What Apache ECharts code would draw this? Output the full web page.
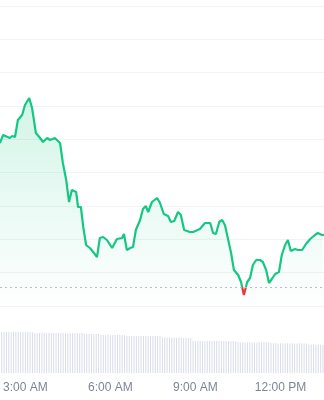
<!DOCTYPE html>
<html><head><meta charset="utf-8">
<script src="https://cdn.jsdelivr.net/npm/echarts@6/dist/echarts.min.js"></script>
<style>html,body{margin:0;padding:0;background:#fff}#c{width:324px;height:400px}</style>
</head><body><div id="c"></div>
<script>
// ---- data ----
const priceTimes = ['02:08','02:15','02:19','02:29','02:34','02:40','02:46','02:55','03:01','03:10',
'03:16','03:24','03:33','03:39','03:48','03:54','03:58','04:04','04:15','04:21',
'04:28','04:34','04:40','04:49','04:53','04:59','05:04','05:10','05:18','05:25',
'05:33','05:39','05:46','05:54','06:05','06:15','06:26','06:30','06:36','06:43',
'06:49','06:55','07:04','07:10','07:16','07:21','07:29','07:40','07:46','07:54',
'08:03','08:09','08:16','08:24','08:30','08:37','08:49','08:56','09:10','09:21',
'09:32','09:38','09:44','09:51','09:57','10:03','10:10','10:16','10:22','10:31',
'10:37','10:43','10:50','10:56','11:02','11:09','11:17','11:23','11:30','11:36',
'11:42','11:49','11:57','12:03','12:10','12:16','12:22','12:31','12:37','12:46',
'12:54','13:03','13:13','13:19','13:28','13:32'];
const prices = [104.89,105.13,105.19,105.04,105.10,105.07,105.58,105.73,106.03,106.24,
105.94,105.19,105.04,104.92,105.04,104.98,104.92,105.04,104.89,104.29,
103.78,103.12,103.48,103.42,102.97,102.97,102.37,101.83,101.74,101.62,
101.47,102.04,102.07,101.98,101.74,102.01,102.04,102.16,101.68,101.74,
101.77,102.28,102.58,102.91,103.00,102.82,103.12,103.24,103.09,102.76,
102.70,102.52,102.55,102.82,102.73,102.28,102.22,102.22,102.31,102.49,
102.49,102.19,102.16,102.52,102.58,102.43,101.98,101.59,101.08,100.93,
100.72,100.33,100.72,100.84,101.23,101.38,101.38,101.32,101.08,100.69,
100.81,100.96,101.02,101.53,101.83,101.98,101.65,101.71,101.68,101.68,
101.86,102.01,102.13,102.19,102.13,102.13];
const openPrice = 100.57;
const volumeStart = '02:10';
const volumeStepMinutes = 5;
const volumes = [41.0,40.8,41.1,40.9,41.0,41.2,40.9,41.0,40.8,41.1,41.0,40.9,41.0,40.8,
40.1,40.0,39.9,40.2,40.0,39.8,40.1,40.0,39.9,40.0,40.2,39.9,40.0,40.1,39.8,40.0,39.9,40.1,40.0,39.8,39.9,
39.1,38.9,39.0,39.2,38.8,39.0,38.9,
38.1,37.9,38.0,38.2,37.8,38.0,37.9,38.1,38.0,37.8,37.9,
37.1,36.9,37.0,37.2,36.8,37.0,36.9,37.1,37.0,36.8,36.9,37.0,37.1,36.9,36.8,
35.4,35.2,35.3,35.5,35.1,35.3,35.2,35.4,35.3,35.1,35.2,35.3,35.0,
32.2,32.0,31.9,32.1,32.0,31.8,32.1,31.9,32.0,32.2,31.9,32.0,31.8,32.1,31.9,32.0,31.8,31.9,31.7,
30.9,30.7,30.8,30.6,30.8,30.7,30.5,30.8,30.6,30.7,30.5,30.6,30.7,30.4,
29.9,29.7,29.8,29.6,29.8,29.7,29.5,29.8,29.6,29.7,29.5,29.6,29.7,29.4,29.5,29.6,
28.6,28.4,28.5,28.3,28.4,28.2,28.1];
const tickLabels = ['3:00 AM','6:00 AM','9:00 AM','12:00 PM'];
const viewStart = '02:08:18';
const viewEnd = '13:32:06';

// ---- helpers ----
function hm(s){const p=s.split(':').map(Number);return p[0]*60+p[1]+(p[2]||0)/60;}
function labelToMin(l){const [t,ap]=l.split(' ');let [h,m]=t.split(':').map(Number);if(ap==='PM'&&h!==12)h+=12;if(ap==='AM'&&h===12)h=0;return h*60+m;}
function minToLabel(v){let h=Math.floor(v/60),m=Math.round(v-h*60);const ap=h>=12?'PM':'AM';let hh=h%12;if(hh===0)hh=12;return hh+':'+String(m).padStart(2,'0')+' '+ap;}

const lineData = priceTimes.map((t,i)=>[hm(t),prices[i]]);
const volData = volumes.map((v,i)=>[hm(volumeStart)+i*volumeStepMinutes,v]);
const tickVals = tickLabels.map(labelToMin);
const xMin = hm(viewStart), xMax = hm(viewEnd);
const GREEN = '#16c784', RED = '#ea3943';

const chart = echarts.init(document.getElementById('c'),null,{renderer:'canvas'});
chart.setOption({
  animation:false,
  grid:[{left:0,right:0,top:6,height:300},{left:0,right:0,top:331,height:42}],
  xAxis:[
    {type:'value',gridIndex:0,min:xMin,max:xMax,show:false},
    {type:'value',gridIndex:1,min:xMin,max:xMax,
     axisLine:{show:false},axisTick:{show:false,customValues:tickVals},splitLine:{show:false},
     axisLabel:{customValues:tickVals,formatter:v=>minToLabel(v),color:'#7d8596',fontSize:12,
       fontFamily:'Liberation Sans, Arial, sans-serif',margin:9}}
  ],
  yAxis:[
    {type:'value',gridIndex:0,min:100,max:109,interval:1,axisLabel:{show:false},axisLine:{show:false},axisTick:{show:false},
     splitLine:{show:true,lineStyle:{color:'#f2f3f5',width:1}}},
    {type:'value',gridIndex:1,min:0,max:42,show:false,splitLine:{show:false}}
  ],
  series:[
    {id:'price',type:'line',xAxisIndex:0,yAxisIndex:0,data:lineData,showSymbol:false,
     lineStyle:{width:2.2,color:GREEN},
     areaStyle:{color:new echarts.graphic.LinearGradient(0,0,0,1,[
       {offset:0,color:'rgba(22,199,132,0.27)'},{offset:1,color:'rgba(22,199,132,0)'}])},
     markLine:{silent:true,symbol:'none',label:{show:false},
       lineStyle:{color:'#b9bec8',type:[2,3],width:1},data:[{yAxis:openPrice}]}},
    {type:'bar',xAxisIndex:1,yAxisIndex:1,data:volData,barWidth:1,
     itemStyle:{color:'#d9dde9'}}
  ]
});
// colour the stroke red below the opening price line
const yPx = chart.convertToPixel({gridIndex:0},[xMin,openPrice])[1];
const H = chart.getHeight();
const f = yPx/H;
chart.setOption({series:[{id:'price',lineStyle:{color:new echarts.graphic.LinearGradient(0,0,0,H,[
  {offset:0,color:GREEN},{offset:f,color:GREEN},{offset:f,color:RED},{offset:1,color:RED}],true)}}]});
</script></body></html>
